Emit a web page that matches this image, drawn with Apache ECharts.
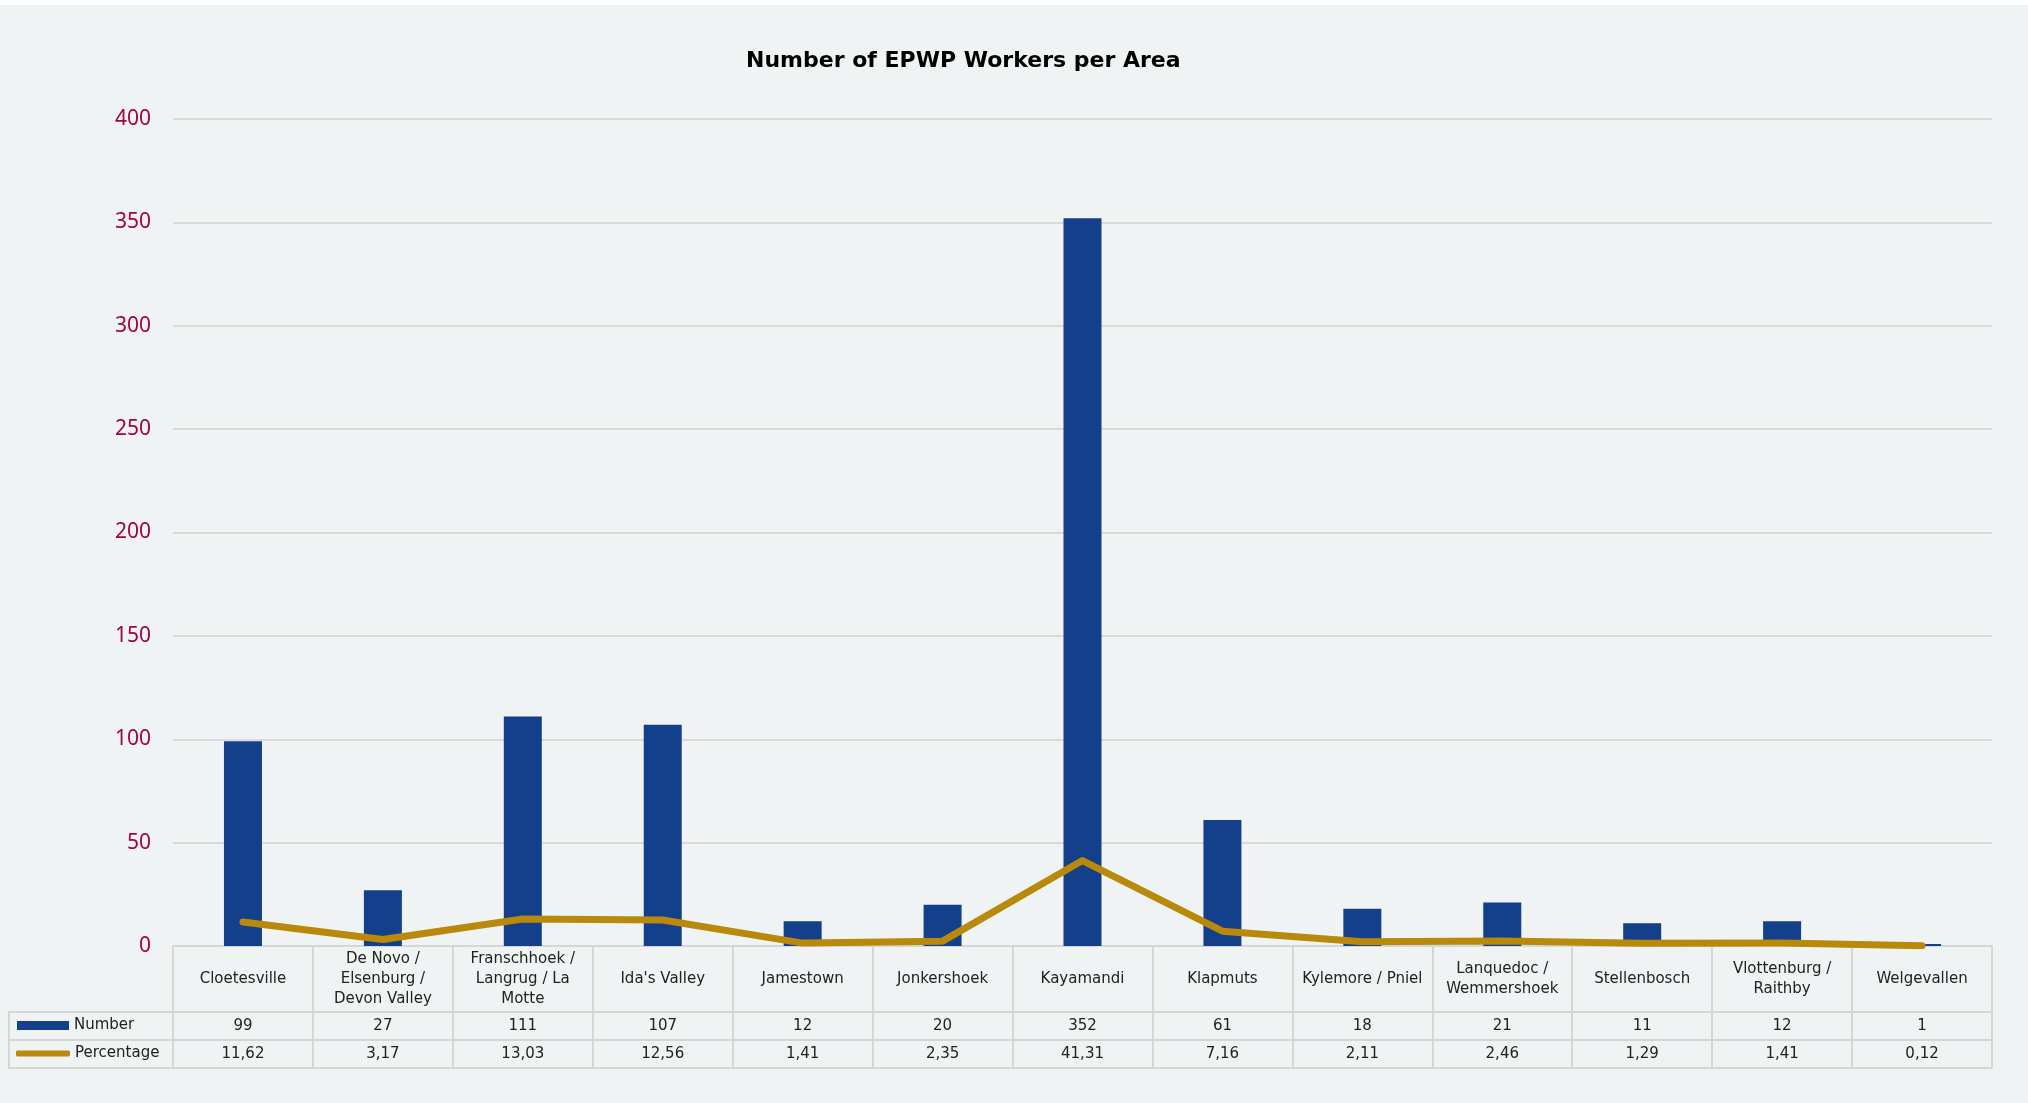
<!DOCTYPE html>
<html>
<head>
<meta charset="utf-8">
<script src="https://cdn.jsdelivr.net/npm/echarts@6/dist/echarts.min.js"></script>
<style>
html,body{margin:0;padding:0;background:#ffffff;}
#chart{width:2028px;height:1103px;}
</style>
</head>
<body>
<div id="chart"></div>
<script>
const categories = ["Cloetesville","De Novo / Elsenburg / Devon Valley","Franschhoek / Langrug / La Motte","Ida's Valley","Jamestown","Jonkershoek","Kayamandi","Klapmuts","Kylemore / Pniel","Lanquedoc / Wemmershoek","Stellenbosch","Vlottenburg / Raithby","Welgevallen"];
const tickLabels = ["Cloetesville","De Novo /\nElsenburg /\nDevon Valley","Franschhoek /\nLangrug / La\nMotte","Ida's Valley","Jamestown","Jonkershoek","Kayamandi","Klapmuts","Kylemore / Pniel","Lanquedoc /\nWemmershoek","Stellenbosch","Vlottenburg /\nRaithby","Welgevallen"];
const numberValues = [99,27,111,107,12,20,352,61,18,21,11,12,1];
const percentageValues = [11.62,3.17,13.03,12.56,1.41,2.35,41.31,7.16,2.11,2.46,1.29,1.41,0.12];
const yTicks = [0,50,100,150,200,250,300,350,400];

const chart = echarts.init(document.getElementById('chart'));
const borderColor = '#d6d6d6';
const tableFont = {fontFamily:'DejaVu Sans', fontSize:15, color:'#222222'};
const fmtPct = v => v.toFixed(2).replace('.', ',');

function tableAxis(offset, tickLen, formatter, showLabel){
  return {
    type:'category', gridIndex:0, position:'bottom', offset:offset,
    data:categories,
    axisLine:{show:true, lineStyle:{color:borderColor, width:2}},
    axisTick:{show:tickLen>0, length:tickLen, interval:0, lineStyle:{color:borderColor, width:2}},
    axisLabel:Object.assign({show:showLabel, interval:0, margin:tickLen/2, verticalAlign:'middle', align:'center', lineHeight:20, formatter:formatter}, tableFont),
    splitLine:{show:false}
  };
}

chart.setOption({
  backgroundColor:'#eff3f4',
  animation:false,
  title:{
    text:'Number of EPWP Workers per Area',
    left:741, top:45,
    textStyle:{fontFamily:'DejaVu Sans', fontWeight:'bold', fontSize:22, color:'#000000'}
  },
  legend:[
    {data:[{name:'Number', icon:'rect'}], left:17, top:1018, padding:0, itemWidth:52, itemHeight:9,
     textStyle:tableFont},
    {data:[{name:'Percentage', icon:'roundRect'}], left:16, top:1046, padding:0, itemWidth:54, itemHeight:6,
     textStyle:tableFont}
  ],
  grid:{left:173, right:36, top:119, bottom:157, containLabel:false},
  xAxis:[
    tableAxis(0, 66, (v, i) => tickLabels[i], true),
    tableAxis(66, 28, (v, i) => String(numberValues[i]), true),
    tableAxis(94, 28, (v, i) => fmtPct(percentageValues[i]), true),
    tableAxis(122, 0, () => '', false)
  ],
  yAxis:{
    type:'value', min:yTicks[0], max:yTicks[yTicks.length-1], interval:yTicks[1]-yTicks[0],
    axisLine:{show:false}, axisTick:{show:false},
    axisLabel:{color:'#a0063c', fontFamily:'Noto Sans', fontSize:21, margin:22},
    splitLine:{lineStyle:{color:'#d9d9d9', width:2}}
  },
  series:[
    {name:'Number', type:'bar', data:numberValues, barWidth:38, itemStyle:{color:'#133f8b'}, xAxisIndex:0},
    {name:'Percentage', type:'line', data:percentageValues, xAxisIndex:0, symbol:'none', z:3,
     lineStyle:{color:'#b8890a', width:7, cap:'round', join:'round'}, itemStyle:{color:'#b8890a'}}
  ],
  graphic:[
    {type:'rect', shape:{x:0, y:0, width:2028, height:5}, style:{fill:'#ffffff'}, silent:true},
    {type:'rect', shape:{x:9, y:1012, width:164, height:56}, style:{fill:'none', stroke:borderColor, lineWidth:2}, silent:true},
    {type:'line', shape:{x1:9, y1:1040, x2:173, y2:1040}, style:{stroke:borderColor, lineWidth:2}, silent:true}
  ]
});
</script>
</body>
</html>
